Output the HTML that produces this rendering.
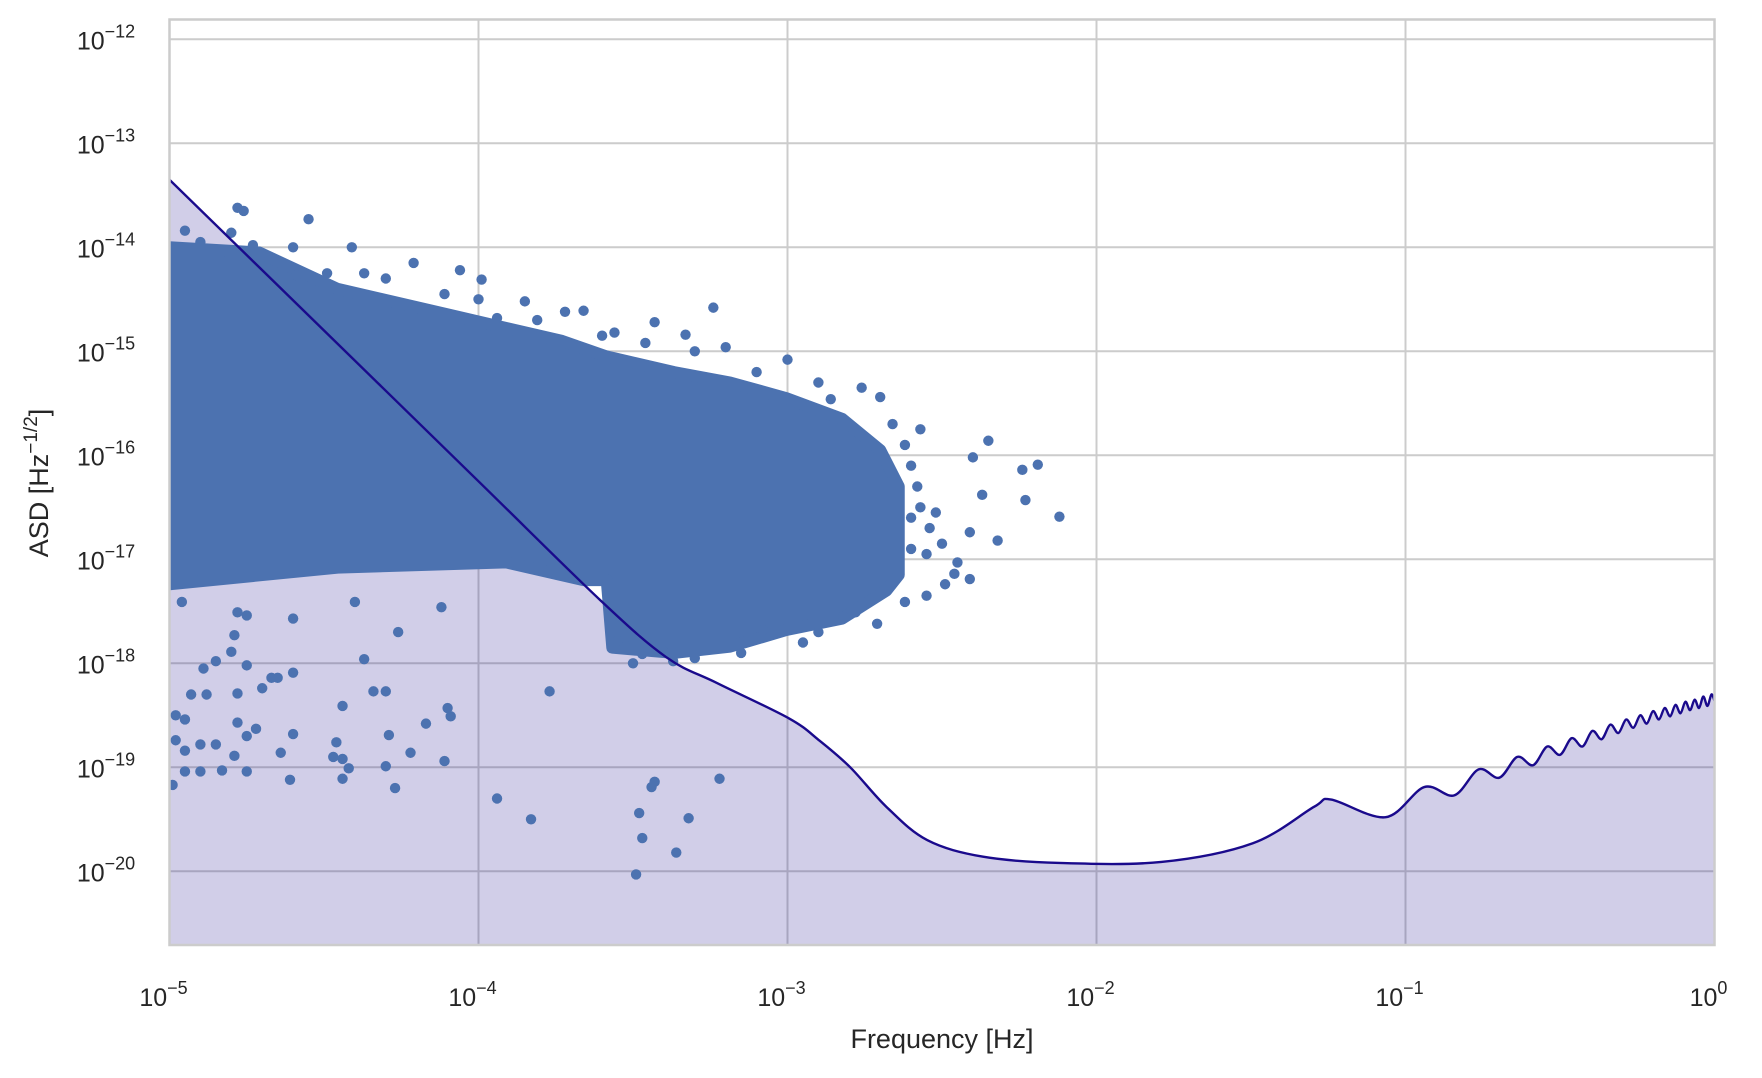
<!DOCTYPE html>
<html><head><meta charset="utf-8"><style>
html,body{margin:0;padding:0;background:#fff;}
svg{display:block;font-family:"Liberation Sans",sans-serif;}
</style></head><body>
<svg id="chart" width="1762" height="1078" viewBox="0 0 1762 1078" xmlns="http://www.w3.org/2000/svg">
<defs><clipPath id="plotclip"><rect x="169.5" y="19.5" width="1545" height="925.5"/></clipPath></defs>
<g id="grid"></g>
<g id="fill" clip-path="url(#plotclip)"></g>
<g id="scatter" clip-path="url(#plotclip)"></g>
<g id="curve" clip-path="url(#plotclip)"></g>
<rect x="169.5" y="19.5" width="1545" height="925.5" fill="none" stroke="#cccccc" stroke-width="2.5"/>
<g id="ticks" fill="#262626"></g>
<text x="942" y="1048" text-anchor="middle" font-size="27" fill="#262626">Frequency [Hz]</text>
<text transform="translate(48,483) rotate(-90)" text-anchor="middle" font-size="27" fill="#262626">ASD [Hz<tspan font-size="19" dy="-11">−1/2</tspan><tspan dy="11">]</tspan></text>
</svg>
<script>
// axis data (log10 values)
const xTicks = [-5,-4,-3,-2,-1,0];
const yTicks = [-12,-13,-14,-15,-16,-17,-18,-19,-20];
const xTickLabels = ["−5","−4","−3","−2","−1","0"];
const yTickLabels = ["−12","−13","−14","−15","−16","−17","−18","−19","−20"];
// sensitivity curve (smooth part)
const curveLogF = [-5,-4.5,-4,-3.607,-3.393,-3.228,-2.995,-2.898,-2.797,-2.68,-2.548,-2.367,-2.12,-1.79,-1.494,-1.296];
const curveLogA = [-13.35,-14.80,-16.25,-17.39,-17.94,-18.19,-18.53,-18.74,-19.0,-19.38,-19.70,-19.86,-19.92,-19.91,-19.73,-19.38];
// oscillation: peaks at n*f0, troughs at (n+0.5)*f0
const f0 = 0.0575;
const peakA = [-19.31,-19.19,-19.02,-18.90,-18.80,-18.72,-18.65,-18.59,-18.54,-18.50,-18.46,-18.43,-18.40,-18.37,-18.35,-18.32,-18.30];
const troughA = [-19.48,-19.27,-19.10,-18.98,-18.88,-18.80,-18.73,-18.67,-18.62,-18.58,-18.54,-18.51,-18.48,-18.45,-18.43,-18.41];
const endA = -18.36;
// dense scatter envelope
const blobUpperF = [-5,-4.71,-4.456,-4.093,-3.73,-3.585,-3.367,-3.186,-3.004,-2.823,-2.70,-2.64];
const blobUpperA = [-14.0,-14.05,-14.4,-14.65,-14.9,-15.05,-15.2,-15.3,-15.45,-15.65,-15.95,-16.3];
const blobLowerF = [-2.64,-2.68,-2.823,-3.004,-3.186,-3.367,-3.567,-3.585,-3.66,-3.91,-4.456,-5];
const blobLowerA = [-17.15,-17.3,-17.57,-17.68,-17.84,-17.9,-17.85,-17.2,-17.2,-17.03,-17.08,-17.24];
// outlier points [log f, log ASD]
const outliers = [[-4.78,-13.62],[-4.76,-13.65],[-4.55,-13.73],[-4.95,-13.84],[-4.41,-14.0],[-4.8,-13.86],[-4.73,-13.98],[-4.59,-14.27],[-4.49,-14.25],[-4.37,-14.25],[-4.21,-14.15],[-4.06,-14.22],[-3.99,-14.31],[-4.11,-14.45],[-3.85,-14.52],[-3.94,-14.68],[-3.81,-14.7],[-3.72,-14.62],[-3.66,-14.61],[-3.56,-14.82],[-3.43,-14.72],[-3.33,-14.84],[-3.24,-14.58],[-3.2,-14.96],[-3.46,-14.92],[-3.0,-15.08],[-2.76,-15.35],[-2.7,-15.44],[-2.86,-15.46],[-2.57,-15.75],[-2.35,-15.86],[-2.4,-16.02],[-2.24,-16.14],[-2.19,-16.09],[-2.23,-16.43],[-2.12,-16.59],[-2.37,-16.38],[-2.32,-16.82],[-2.41,-16.74],[-2.41,-17.19],[-2.49,-17.24],[-2.46,-17.14],[-2.55,-17.35],[-2.45,-17.03],[-2.54,-16.7],[-2.62,-17.41],[-2.71,-17.62],[-2.78,-17.51],[-2.82,-17.55],[-3.08,-17.68],
[-2.6,-16.1],[-2.58,-16.3],[-2.6,-16.6],[-2.57,-16.5],[-2.6,-16.9],[-2.55,-16.95],[-2.52,-16.55],[-2.5,-16.85],[-2.62,-15.9],[-2.66,-15.7],[-2.9,-15.3],[-3.1,-15.2],[-3.3,-15.0],[-3.6,-14.85],[-4.0,-14.5],[-4.3,-14.3],[-4.6,-14.0],[-4.9,-13.95],[-3.5,-18.0],[-3.3,-17.95],[-3.15,-17.9],[-2.95,-17.8],[-2.9,-17.7],
[-4.96,-17.41],[-4.78,-17.51],[-4.75,-17.54],[-4.8,-17.89],[-4.79,-17.73],[-4.6,-17.57],[-4.4,-17.41],[-4.12,-17.46],[-4.26,-17.7],[-4.6,-18.09],[-4.37,-17.96],[-4.75,-18.02],[-4.89,-18.05],[-4.85,-17.98],[-3.77,-18.27],[-4.1,-18.43],[-4.09,-18.51],[-4.34,-18.27],[-4.3,-18.27],[-4.44,-18.41],[-4.67,-18.14],[-4.65,-18.14],[-4.7,-18.24],[-4.93,-18.3],[-4.88,-18.3],[-4.78,-18.29],[-4.98,-18.5],[-4.95,-18.54],[-4.98,-18.74],[-4.95,-18.84],[-4.9,-18.78],[-4.85,-18.78],[-4.75,-18.7],[-4.79,-18.89],[-4.72,-18.63],[-4.78,-18.57],[-4.6,-18.68],[-4.64,-18.86],[-4.46,-18.76],[-4.47,-18.9],[-4.44,-18.92],[-4.42,-19.01],[-4.29,-18.69],[-4.17,-18.58],[-4.22,-18.86],[-4.3,-18.99],[-4.11,-18.94],[-4.95,-19.04],[-4.9,-19.04],[-4.83,-19.03],[-4.75,-19.04],[-4.61,-19.12],[-4.44,-19.11],[-4.27,-19.2],[-4.99,-19.17],[-3.94,-19.3],[-3.83,-19.5],[-3.44,-19.19],[-3.43,-19.14],[-3.22,-19.11],[-3.32,-19.49],[-3.48,-19.44],[-3.47,-19.68],[-3.36,-19.82],[-3.49,-20.03],[-3.55,-17.78],[-3.47,-17.91],[-3.4,-17.89],[-3.37,-17.98],[-3.5,-17.77]];

const NS="http://www.w3.org/2000/svg";
const L=169.5,R=1714.5,T=19.5,B=945;
const X=lf=>L+(lf+5)*(R-L)/5;
const Y=la=>39.3+(-12-la)*104.0;
function mk(tag,attrs,parent){const e=document.createElementNS(NS,tag);for(const k in attrs)e.setAttribute(k,attrs[k]);parent.appendChild(e);return e;}
const grid=document.getElementById('grid'),ticks=document.getElementById('ticks');
xTicks.forEach((t,i)=>{
  const l=mk('line',{x1:X(t),x2:X(t),y1:T,y2:B,stroke:'#cccccc','stroke-width':2},grid);
  
  
  const tx=mk('text',{x:X(t)-6,y:1006,'text-anchor':'middle','font-size':25},ticks);
  
  
  tx.innerHTML='10<tspan font-size="18" dy="-12">'+xTickLabels[i]+'</tspan>';
});
yTicks.forEach((t,i)=>{
  const l=mk('line',{x1:L,x2:R,y1:Y(t),y2:Y(t),stroke:'#cccccc','stroke-width':2},grid);
  
  
  const tx=mk('text',{x:106,y:Y(t)+10,'text-anchor':'middle','font-size':25},ticks);
  
  
  tx.innerHTML='10<tspan font-size="18" dy="-12">'+yTickLabels[i]+'</tspan>';
});
// build curve points
const pts=[];
curveLogF.forEach((f,i)=>pts.push([X(f),Y(curveLogA[i])]));
for(let n=1;n<=17;n++){
  pts.push([X(Math.log10(n*f0)),Y(peakA[n-1])]);
  if(n<=16)pts.push([X(Math.log10((n+0.5)*f0)),Y(troughA[n-1])]);
}
pts.push([X(0),Y(endA)]);
function spline(p){let d='M'+p[0][0]+','+p[0][1];
  for(let i=0;i<p.length-1;i++){const p0=p[i-1]||p[i],p1=p[i],p2=p[i+1],p3=p[i+2]||p2;
    const c1=[p1[0]+(p2[0]-p0[0])/6,p1[1]+(p2[1]-p0[1])/6],c2=[p2[0]-(p3[0]-p1[0])/6,p2[1]-(p3[1]-p1[1])/6];
    d+=' C'+c1+' '+c2+' '+p2;}return d;}
const cd=spline(pts);
const fp=mk('path',{d:cd+' L'+X(0)+','+B+' L'+L+','+B+' Z',fill:'rgba(26,10,140,0.2)'},document.getElementById('fill'));


const sc=document.getElementById('scatter');
let bd='';
blobUpperF.forEach((f,i)=>bd+=(i?'L':'M')+X(f)+','+Y(blobUpperA[i]));
blobLowerF.forEach((f,i)=>bd+='L'+X(f)+','+Y(blobLowerA[i]));
const blob=mk('path',{d:bd+'Z',fill:'#4c72b0',stroke:'#4c72b0','stroke-width':12,'stroke-linejoin':'round'},sc);


outliers.forEach(o=>{
  const c=mk('circle',{cx:X(o[0]),cy:Y(o[1]),r:5.2,fill:'#4c72b0'},sc);
  
  
});
const cl=mk('path',{d:cd,fill:'none',stroke:'#1a0a8c','stroke-width':2.4},document.getElementById('curve'));


</script>
</body></html>
